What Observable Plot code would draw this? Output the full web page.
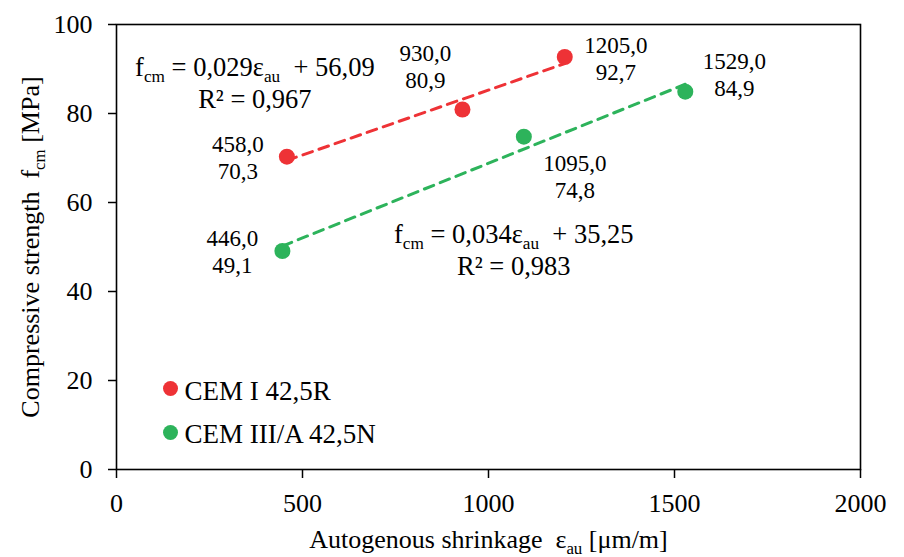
<!DOCTYPE html>
<html><head><meta charset="utf-8">
<script src="https://cdn.jsdelivr.net/npm/d3@7"></script>
<script src="https://cdn.jsdelivr.net/npm/@observablehq/plot@0.6"></script>
<style>body{margin:0;background:#fff;} #chart{width:904px;height:557px;}</style>
</head><body><div id="chart"></div>
<script>
// ---- data ----
const seriesNames = ["CEM I 42,5R", "CEM III/A 42,5N"];
const seriesColors = ["#EE3236", "#2DB35B"];
const cem1Shrinkage = [458, 930, 1205];
const cem1Strength = [70.3, 80.9, 92.7];
const cem3Shrinkage = [446, 1095, 1529];
const cem3Strength = [49.1, 74.8, 84.9];
const xTicks = [0, 500, 1000, 1500, 2000];
const yTicks = [0, 20, 40, 60, 80, 100];
const equationTexts = [
  "f_{cm} = 0,029ε_{au}\u00a0 + 56,09\nR² = 0,967",
  "f_{cm} = 0,034ε_{au}\u00a0 + 35,25\nR² = 0,983"
];
// annotation anchors (data coordinates) and label offsets (px)
const equationAnchorX = [372, 1068];
const equationAnchorY = [87.2, 49.6];
const labelOffsets = [[-49, 0], [-37, -44], [51, 1], [-50, 0], [51, 39], [49, -18]];

const fmt = v => d3.format(".1f")(v).replace(".", ",");
const points = [
  ...cem1Shrinkage.map((x, i) => ({series: seriesNames[0], x, y: cem1Strength[i]})),
  ...cem3Shrinkage.map((x, i) => ({series: seriesNames[1], x, y: cem3Strength[i]}))
].map(d => ({...d, label: fmt(d.x) + "\n" + fmt(d.y)}));
const equations = equationTexts.map((text, i) => ({series: seriesNames[i], text, x: equationAnchorX[i], y: equationAnchorY[i]}));

const FONT = "'Liberation Serif', 'Times New Roman', serif";

const chart = Plot.plot({
  width: 904,
  height: 557,
  marginLeft: 116,
  marginRight: 44,
  marginTop: 24,
  marginBottom: 88,
  style: {fontFamily: FONT, fontSize: "26px", color: "black", background: "white", overflow: "visible"},
  x: {domain: [0, 2000]},
  y: {domain: [0, 100]},
  color: {domain: seriesNames, range: seriesColors},
  marks: [
    Plot.axisX({ticks: xTicks, tickSize: 9, tickPadding: 15, strokeWidth: 1.5, fontSize: 26, tickFormat: d => String(d),
      label: "Autogenous shrinkage\u00a0 ε_{au} [μm/m]", labelAnchor: "center", labelOffset: 78, labelArrow: false}),
    Plot.axisY({ticks: yTicks, tickSize: 8, tickPadding: 16, strokeWidth: 1.5, fontSize: 26, tickFormat: d => String(d),
      label: "Compressive strength\u00a0 f_{cm} [MPa]", labelAnchor: "center", labelOffset: 96, labelArrow: false}),
    Plot.frame({stroke: "black", strokeWidth: 1.6}),
    Plot.linearRegressionY(points, {x: "x", y: "y", stroke: "series", ci: 0, strokeWidth: 3, strokeDasharray: "10,7"}),
    Plot.dot(points, {x: "x", y: "y", fill: "series", r: 8}),
    ...points.map((p, i) => Plot.text([p], {x: "x", y: "y", text: "label", dx: labelOffsets[i][0], dy: labelOffsets[i][1], fontSize: 23, lineHeight: 1.17, fill: "black"})),
    Plot.text(equations, {x: "x", y: "y", text: "text", fontSize: 26.5, lineHeight: 1.22, fill: "black"}),
    ...seriesNames.map((name, i) => Plot.dot([name], {frameAnchor: "bottom-left", dx: 54, dy: i === 0 ? -81 : -37, fill: d => d, r: 7.5})),
    ...seriesNames.map((name, i) => Plot.text([name], {frameAnchor: "bottom-left", lineAnchor: "middle", dx: 68, dy: i === 0 ? -78 : -35, text: d => d, textAnchor: "start", fontSize: 27, fill: "black"}))
  ]
});

// render _{...} as subscripts
const svgNS = "http://www.w3.org/2000/svg";
chart.querySelectorAll("text, tspan").forEach(el => {
  for (const node of Array.from(el.childNodes)) {
    if (node.nodeType === 3 && node.nodeValue.includes("_{")) {
      const parts = node.nodeValue.split(/(_\{[^}]*\})/);
      const frag = document.createDocumentFragment();
      for (const p of parts) {
        const m = p.match(/^_\{([^}]*)\}$/);
        if (m) {
          const t = document.createElementNS(svgNS, "tspan");
          t.setAttribute("font-size", "65%");
          t.style.baselineShift = "-6px";
          t.textContent = m[1];
          frag.append(t);
        } else if (p) frag.append(document.createTextNode(p));
      }
      el.replaceChild(frag, node);
    }
  }
});
document.getElementById("chart").append(chart);
</script>
</body></html>
